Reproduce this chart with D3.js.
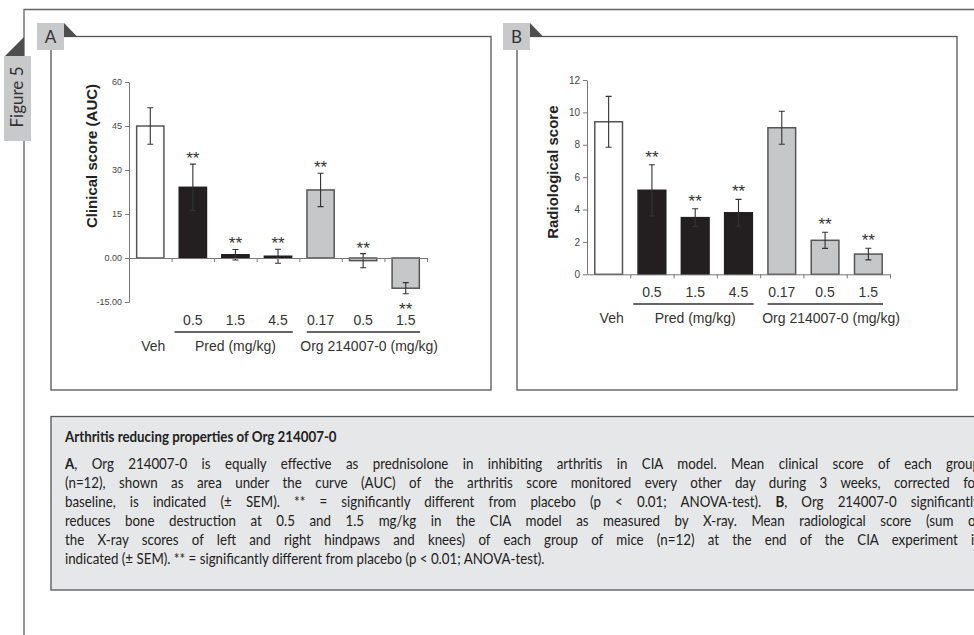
<!DOCTYPE html>
<html>
<head>
<meta charset="utf-8">
<script src="https://cdn.jsdelivr.net/npm/d3@7"></script>
<style>
body { margin: 0; background: #fff; }
svg { display: block; }
</style>
</head>
<body>
<div id="figure"></div>
<script>
// categories shared by both panels
var doseLabels = ["Veh", "0.5", "1.5", "4.5", "0.17", "0.5", "1.5"];
var groupNames = ["Veh", "Pred (mg/kg)", "Org 214007-0 (mg/kg)"];
var barGroup = [0, 1, 1, 1, 2, 2, 2];

// panel A : clinical score (AUC), mean and SEM
var clinicalMean = [45.0, 24.1, 1.1, 0.6, 23.2, -0.9, -10.3];
var clinicalSem = [6.2, 7.9, 1.8, 2.4, 5.7, 2.4, 1.9];
var clinicalSig = [0, 1, 1, 1, 1, 1, 1];
var clinicalTicks = [-15, 0, 15, 30, 45, 60];
var clinicalTickLabels = ["-15.00", "0.00", "15", "30", "45", "60"];

// panel B : radiological score, mean and SEM
var radioMean = [9.42, 5.19, 3.5, 3.8, 9.05, 2.1, 1.25];
var radioSem = [1.57, 1.58, 0.55, 0.83, 1.02, 0.5, 0.36];
var radioSig = [0, 1, 1, 1, 0, 1, 1];
var radioTicks = [0, 2, 4, 6, 8, 10, 12];
var radioTickLabels = ["0", "2", "4", "6", "8", "10", "12"];

var captionTitle = "Arthritis reducing properties of Org 214007-0";
// {x} = bold part
var captionLines = [
	"{A}, Org 214007-0 is equally effective as prednisolone in inhibiting arthritis in CIA model. Mean clinical score of each group",
	"(n=12), shown as area under the curve (AUC) of the arthritis score monitored every other day during 3 weeks, corrected for",
	"baseline, is indicated (\u00b1 SEM). ** = significantly different from placebo (p < 0.01; ANOVA-test). {B}, Org 214007-0 significantly",
	"reduces bone destruction at 0.5 and 1.5 mg/kg in the CIA model as measured by X-ray. Mean radiological score (sum of",
	"the X-ray scores of left and right hindpaws and knees) of each group of mice (n=12) at the end of the CIA experiment is",
	"indicated (\u00b1 SEM). ** = significantly different from placebo (p < 0.01; ANOVA-test)."
];

var barFill = ["#ffffff", "#231f20", "#c6c7c8"];
var frameColor = "#555";
var tabFill = "#c8c9ca";
var chartFont = "'Liberation Sans', Arial, sans-serif";

var svg = d3.select("#figure").append("svg")
	.attr("width", 974)
	.attr("height", 635);

// outer figure frame
svg.append("path")
	.attr("d", "M24,635 L24,9.5 L974,9.5")
	.attr("fill", "none")
	.attr("stroke", "#666")
	.attr("stroke-width", 1.3);

// "Figure 5" tab
svg.append("path").attr("d", "M5,56 L24,37 L24,56 Z").attr("fill", "#4d4d4d");
svg.append("rect").attr("x", 4).attr("y", 56).attr("width", 27).attr("height", 85).attr("fill", tabFill);
svg.append("text")
	.attr("transform", "translate(23,97) rotate(-90)")
	.attr("text-anchor", "middle")
	.attr("font-family", "Lato, 'Open Sans', sans-serif")
	.attr("font-size", 17)
	.attr("fill", "#333")
	.text("Figure 5");

function drawPanel(p){
	// panel frame + letter tab
	svg.append("rect")
		.attr("x", p.left).attr("y", 36.5)
		.attr("width", 440).attr("height", 353.5)
		.attr("fill", "#fff")
		.attr("stroke", frameColor)
		.attr("stroke-width", 1.3);
	svg.append("path")
		.attr("d", "M" + (p.left + 13) + ",23 L" + (p.left + 13) + ",36.5 L" + (p.left + 26) + ",36.5 Z")
		.attr("fill", "#4d4d4d");
	svg.append("rect")
		.attr("x", p.left - 14).attr("y", 23)
		.attr("width", 27).attr("height", 27)
		.attr("fill", tabFill);
	svg.append("text")
		.attr("x", p.left - 0.5).attr("y", 43)
		.attr("text-anchor", "middle")
		.attr("font-family", "Lato, 'Open Sans', sans-serif")
		.attr("font-size", 17)
		.attr("fill", "#333")
		.text(p.letter);

	var g = svg.append("g");

	var yScale = d3.scaleLinear().domain(p.domain).range([p.yBottom, p.yTop]);
	var xBand = d3.scaleBand()
		.domain(d3.range(doseLabels.length))
		.range([p.x0, p.x1])
		.paddingInner(0.36)
		.paddingOuter(0.18);
	var xEdge = d3.scaleLinear().domain([0, doseLabels.length]).range([p.x0, p.x1]);
	var cx = function(i){ return xBand(i) + xBand.bandwidth() / 2; };

	var bars = p.mean.map(function(m, i){
		return {i: i, mean: m, sem: p.sem[i], sig: p.sig[i]};
	});

	// bars
	g.selectAll("rect.bar").data(bars).enter()
		.append("rect")
		.attr("class", "bar")
		.attr("x", function(d){ return xBand(d.i); })
		.attr("y", function(d){ return yScale(Math.max(d.mean, 0)); })
		.attr("width", xBand.bandwidth())
		.attr("height", function(d){ return Math.abs(yScale(d.mean) - yScale(0)); })
		.attr("fill", function(d){ return barFill[barGroup[d.i]]; })
		.attr("stroke", function(d){ return barGroup[d.i] == 1 ? "#231f20" : "#555"; })
		.attr("stroke-width", 1.5);

	// error bars
	var cap = 3;
	g.selectAll("path.err").data(bars).enter()
		.append("path")
		.attr("class", "err")
		.attr("d", function(d){
			var x = cx(d.i);
			var hi = yScale(d.mean + d.sem);
			var lo = yScale(d.mean - d.sem);
			return "M" + x + "," + hi + "L" + x + "," + lo +
				"M" + (x - cap) + "," + hi + "L" + (x + cap) + "," + hi +
				"M" + (x - cap) + "," + lo + "L" + (x + cap) + "," + lo;
		})
		.attr("stroke", "#333")
		.attr("stroke-width", 1.1)
		.attr("fill", "none");

	// significance stars (below the bar when the whole error bar is negative)
	g.selectAll("text.star").data(bars.filter(function(d){ return d.sig; })).enter()
		.append("text")
		.attr("class", "star")
		.attr("x", function(d){ return cx(d.i); })
		.attr("y", function(d){
			if(d.mean + d.sem < 0) return yScale(d.mean - d.sem) + 21;
			return yScale(d.mean + d.sem) + p.starDy;
		})
		.attr("text-anchor", "middle")
		.attr("font-family", chartFont)
		.attr("font-size", 17)
		.attr("fill", "#333")
		.text("**");

	// y axis
	var yAxis = d3.axisLeft(yScale)
		.tickValues(p.ticks)
		.tickSize(4)
		.tickSizeOuter(0)
		.tickPadding(3)
		.tickFormat(function(d, i){ return p.tickLabels[i]; });
	var ya = g.append("g").attr("transform", "translate(" + p.x0 + ",0)").call(yAxis);
	ya.selectAll("text")
		.attr("font-family", chartFont)
		.attr("font-size", p.tickFont)
		.attr("fill", "#444");

	// x axis at zero, ticks between categories
	var xAxis = d3.axisBottom(xEdge)
		.tickValues(d3.range(1, doseLabels.length + 1))
		.tickSize(4)
		.tickSizeOuter(0)
		.tickFormat("");
	var xa = g.append("g").attr("transform", "translate(0," + yScale(0) + ")").call(xAxis);

	[ya, xa].forEach(function(a){
		a.select(".domain").attr("stroke", "#777");
		a.selectAll(".tick line").attr("stroke", "#777");
	});

	// dose labels (not for vehicle)
	g.selectAll("text.dose").data(bars.slice(1)).enter()
		.append("text")
		.attr("class", "dose")
		.attr("x", function(d){ return cx(d.i); })
		.attr("y", p.doseY)
		.attr("text-anchor", "middle")
		.attr("font-family", chartFont)
		.attr("font-size", 14)
		.attr("fill", "#333")
		.text(function(d){ return doseLabels[d.i]; });

	// group underlines
	var groupSpan = [[1, 4, 3, -6.5], [4, 7, 7.5, -7]];
	g.selectAll("line.grp").data(groupSpan).enter()
		.append("line")
		.attr("x1", function(d){ return xEdge(d[0]) + d[2]; })
		.attr("x2", function(d){ return xEdge(d[1]) + d[3]; })
		.attr("y1", p.lineY).attr("y2", p.lineY)
		.attr("stroke", "#333")
		.attr("stroke-width", 1.5);

	// group names
	var groupCenter = [xEdge(0.5) + 3, xEdge(2.5), xEdge(5.5) + 6];
	g.selectAll("text.grp").data(groupNames).enter()
		.append("text")
		.attr("x", function(d, i){ return groupCenter[i]; })
		.attr("y", p.groupY)
		.attr("text-anchor", "middle")
		.attr("font-family", chartFont)
		.attr("font-size", 14)
		.attr("fill", "#333")
		.text(function(d){ return d; });

	// y title
	g.append("text")
		.attr("transform", "translate(" + p.titleX + "," + ((p.yTop + p.yBottom) / 2 + p.titleDy) + ") rotate(-90)")
		.attr("text-anchor", "middle")
		.attr("font-family", chartFont)
		.attr("font-weight", "bold")
		.attr("font-size", 15)
		.attr("fill", "#222")
		.text(p.title);
}

drawPanel({
	left: 51, letter: "A",
	x0: 129, x1: 427, yTop: 82, yBottom: 302,
	domain: [-15, 60], ticks: clinicalTicks, tickLabels: clinicalTickLabels, tickFont: 9,
	mean: clinicalMean, sem: clinicalSem, sig: clinicalSig, starDy: 0,
	doseY: 325, lineY: 332, groupY: 351,
	title: "Clinical score (AUC)", titleX: 97, titleDy: -36
});

drawPanel({
	left: 517, letter: "B",
	x0: 587, x1: 890, yTop: 80, yBottom: 274.3,
	domain: [0, 12], ticks: radioTicks, tickLabels: radioTickLabels, tickFont: 10,
	mean: radioMean, sem: radioSem, sig: radioSig, starDy: -2,
	doseY: 297, lineY: 304, groupY: 323,
	title: "Radiological score", titleX: 558, titleDy: -5
});

// caption box
svg.append("rect")
	.attr("x", 51).attr("y", 416.5)
	.attr("width", 940).attr("height", 173.5)
	.attr("fill", "#e6e7e8")
	.attr("stroke", frameColor)
	.attr("stroke-width", 1.3);

var capFont = "Lato, 'Open Sans', sans-serif";
var capX = 65;
var justifyWidth = 915;
var lastLineWidth = 480;

function capText(y, bold){
	return svg.append("text")
		.attr("y", 0)
		.attr("font-family", capFont)
		.attr("font-weight", bold ? "bold" : "normal")
		.attr("font-size", 15.5)
		.attr("fill", "#222")
		.attr("data-y", y);
}

var lines = captionLines.map(function(line, k){
	var t = capText(469 + k * 19, false);
	line.split(/(\{[^}]*\})/).forEach(function(part){
		if(part == "") return;
		var bold = part.charAt(0) == "{";
		t.append("tspan")
			.attr("font-weight", bold ? "bold" : "normal")
			.text(bold ? part.slice(1, -1) : part);
	});
	return t;
});
var title = capText(442, true).text(captionTitle);

// one horizontal squeeze for all caption text (condensed face), taken from the last, unjustified line
var squeeze = lastLineWidth / lines[lines.length - 1].node().getComputedTextLength();

[title].concat(lines).forEach(function(t, k){
	t.attr("transform", "translate(" + capX + "," + t.attr("data-y") + ") scale(" + squeeze + ",1)");
	// justify full lines with word spacing
	if(k >= 1 && k < lines.length){
		var nat = t.node().getComputedTextLength();
		var spaces = t.text().split(" ").length - 1;
		t.attr("word-spacing", (justifyWidth / squeeze - nat) / spaces);
	}
});
</script>
</body>
</html>
